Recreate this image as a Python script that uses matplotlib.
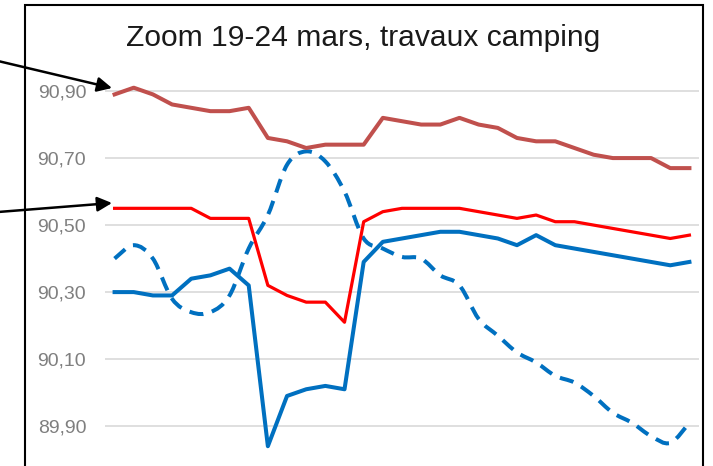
import numpy as np
import matplotlib.pyplot as plt
from matplotlib.patches import Rectangle, PathPatch
from matplotlib.path import Path

plt.rcParams['font.family'] = ['Liberation Sans', 'DejaVu Sans']

# 31 relevés (19-24 mars)
brown = [90.89, 90.91, 90.89, 90.86, 90.85, 90.84, 90.84, 90.85, 90.76, 90.75,
         90.73, 90.74, 90.74, 90.74, 90.82, 90.81, 90.80, 90.80, 90.82, 90.80,
         90.79, 90.76, 90.75, 90.75, 90.73, 90.71, 90.70, 90.70, 90.70, 90.67, 90.67]
red = [90.55, 90.55, 90.55, 90.55, 90.55, 90.52, 90.52, 90.52, 90.32, 90.29,
       90.27, 90.27, 90.21, 90.51, 90.54, 90.55, 90.55, 90.55, 90.55, 90.54,
       90.53, 90.52, 90.53, 90.51, 90.51, 90.50, 90.49, 90.48, 90.47, 90.46, 90.47]
blue = [90.30, 90.30, 90.29, 90.29, 90.34, 90.35, 90.37, 90.32, 89.84, 89.99,
        90.01, 90.02, 90.01, 90.39, 90.45, 90.46, 90.47, 90.48, 90.48, 90.47,
        90.46, 90.44, 90.47, 90.44, 90.43, 90.42, 90.41, 90.40, 90.39, 90.38, 90.39]
blue_dash = [90.40, 90.44, 90.40, 90.28, 90.24, 90.24, 90.29, 90.43, 90.53, 90.68,
             90.72, 90.69, 90.60, 90.46, 90.43, 90.405, 90.40, 90.35, 90.32, 90.22,
             90.17, 90.12, 90.09, 90.05, 90.03, 89.99, 89.94, 89.91, 89.87, 89.85, 89.91]
yticks = [89.9, 90.1, 90.3, 90.5, 90.7, 90.9]
ytick_labels = ['89,90', '90,10', '90,30', '90,50', '90,70', '90,90']


def smooth_path(xs, ys):
    # courbe lissée façon Excel : Bezier passant par chaque point
    p = np.column_stack([xs, ys]).astype(float)
    ext = np.vstack([p[0], p, p[-1]])
    verts = [p[0]]
    codes = [Path.MOVETO]
    for i in range(len(p) - 1):
        c1 = ext[i + 1] + (ext[i + 2] - ext[i]) / 6
        c2 = ext[i + 2] - (ext[i + 3] - ext[i + 1]) / 6
        verts += [c1, c2, p[i + 1]]
        codes += [Path.CURVE4] * 3
    return Path(verts, codes)


fig = plt.figure(figsize=(7.13, 4.66), dpi=100)
ax = fig.add_axes([105/713, 0, 594/713, 385/466])

x = np.arange(len(brown))
ax.add_patch(PathPatch(smooth_path(x, blue_dash), fill=False, edgecolor='#0070C0',
                       linewidth=2.9, linestyle=(0, (3.5, 2.2)), zorder=2))
ax.plot(x, brown, color='#C0504D', linewidth=2.9, zorder=3)
ax.plot(x, red, color='#FF0000', linewidth=2.3, zorder=3)
ax.plot(x, blue, color='#0070C0', linewidth=2.9, zorder=3)

ax.set_xlim(-0.5, len(brown) - 0.5)
ax.set_ylim(89.781, 90.93)
ax.set_yticks(yticks)
ax.set_yticklabels(ytick_labels, fontsize=14, color='#7f7f7f')
ax.set_xticks([])
ax.tick_params(axis='y', length=0, pad=13.5)
ax.grid(axis='y', color='#D9D9D9', linewidth=1.2)
ax.set_axisbelow(True)
for s in ax.spines.values():
    s.set_visible(False)

# cadre du graphique
fig.patches.append(Rectangle((25/713, -0.01), 678/713, 1 - 5/466 + 0.01,
                             transform=fig.transFigure, fill=False,
                             edgecolor='black', linewidth=1.5))

fig.text(363.5/713, 1 - 38/466, 'Zoom 19-24 mars, travaux camping',
         ha='center', va='center', fontsize=21.6, color='#1a1a1a')

# flèches
arrow = dict(arrowstyle='-|>', color='black', lw=1.8, mutation_scale=22,
             shrinkA=0, shrinkB=0)
ax.annotate('', xy=(112, 466 - 88), xytext=(-2, 466 - 61),
            xycoords='figure pixels', textcoords='figure pixels',
            arrowprops=arrow, annotation_clip=False)
ax.annotate('', xy=(112, 466 - 203), xytext=(-2, 466 - 212),
            xycoords='figure pixels', textcoords='figure pixels',
            arrowprops=arrow, annotation_clip=False)

fig.savefig('out.png', dpi=100)
